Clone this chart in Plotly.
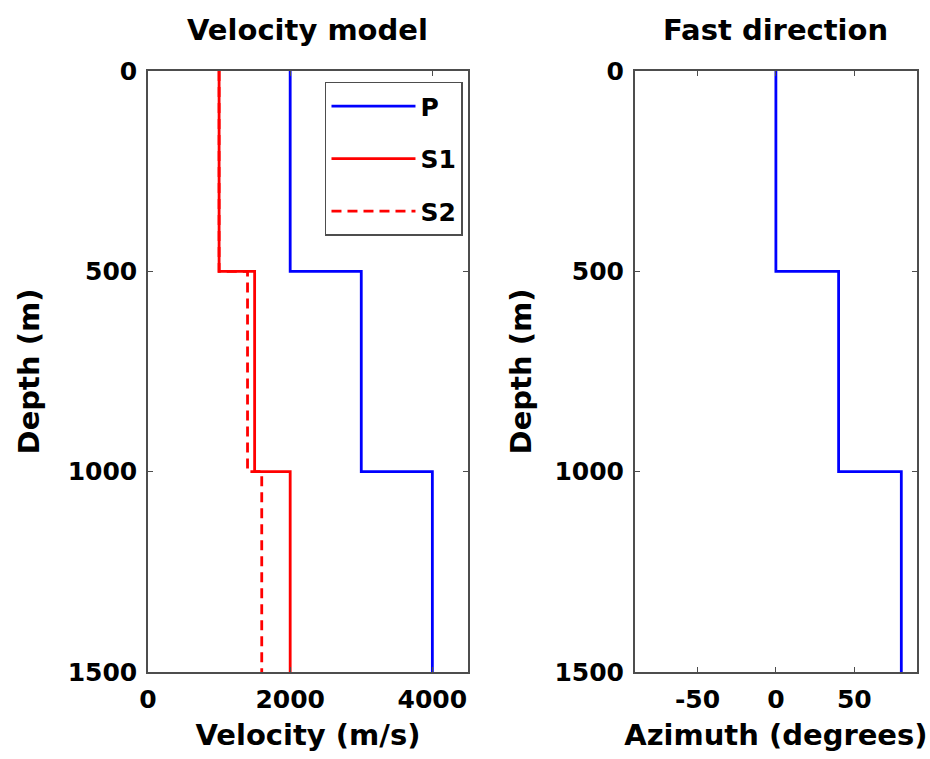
import plotly.graph_objects as go

# ---- data ----
layer_tops = [0, 500, 1000]
model_bottom = 1500
vp = [2000, 3000, 4000]
vs1 = [1000, 1500, 2000]
vs2 = [1000, 1400, 1600]
azimuth = [0, 40, 80]

depth_ticks = [0, 500, 1000, 1500]
vel_ticks = [0, 2000, 4000]
az_ticks = [-50, 0, 50]
az_tick_labels = ["-50", "0", "50"]

depths = layer_tops + [model_bottom]


def steps(vals):
    return vals + [vals[-1]]


FONT = "DejaVu Sans"
TICK_SIZE = 25
LABEL_SIZE = 29
AXCOL = "#4d4d4d"
LW = 2.8

fig = go.Figure()
fig.add_trace(go.Scatter(x=steps(vp), y=depths, mode="lines", line_shape="vh",
                         line=dict(color="#0000ff", width=LW), name="P",
                         legendgroup="P", xaxis="x", yaxis="y"))
fig.add_trace(go.Scatter(x=steps(vs1), y=depths, mode="lines", line_shape="vh",
                         line=dict(color="#ff0000", width=LW), name="S1",
                         legendgroup="S1", xaxis="x", yaxis="y"))
fig.add_trace(go.Scatter(x=steps(vs2), y=depths, mode="lines", line_shape="vh",
                         line=dict(color="#ff0000", width=LW, dash="10px,6px"), name="S2",
                         legendgroup="S2", xaxis="x", yaxis="y"))
fig.add_trace(go.Scatter(x=steps(azimuth), y=depths, mode="lines", line_shape="vh",
                         line=dict(color="#0000ff", width=LW), name="Azimuth",
                         showlegend=False, xaxis="x2", yaxis="y2"))

axis_common = dict(
    showline=True, linecolor=AXCOL, linewidth=1.5, mirror="ticks",
    ticks="inside", ticklen=5, tickcolor=AXCOL, tickwidth=1,
    showgrid=False, zeroline=False,
    tickfont=dict(family=FONT, size=TICK_SIZE, color="black", weight="bold"),
    title_font=dict(family=FONT, size=LABEL_SIZE, color="black", weight="bold"),
)

fig.update_layout(
    width=930, height=759,
    margin=dict(l=148, r=13, t=71, b=87),
    paper_bgcolor="white", plot_bgcolor="white",
    xaxis=dict(domain=[0, 0.416], range=[0, 4500], tickvals=vel_ticks,
               title=dict(text="Velocity (m/s)", standoff=12), anchor="y",
               ticklabelstandoff=4, **axis_common),
    yaxis=dict(domain=[0, 1], range=[1500, 0], tickvals=depth_ticks,
               title=dict(text="Depth (m)", standoff=20), anchor="x",
               ticklabelstandoff=4, **axis_common),
    xaxis2=dict(domain=[0.633, 1], range=[-90, 90], tickvals=az_ticks,
                ticktext=az_tick_labels,
                title=dict(text="Azimuth (degrees)", standoff=12), anchor="y2",
                ticklabelstandoff=4, **axis_common),
    yaxis2=dict(domain=[0, 1], range=[1500, 0], tickvals=depth_ticks,
                title=dict(text="Depth (m)", standoff=14), anchor="x2",
                ticklabelstandoff=4, **axis_common),
    legend=dict(x=0.4096, xanchor="right", y=0.982, yanchor="top",
                bgcolor="white", bordercolor=AXCOL, borderwidth=1.5,
                font=dict(family=FONT, size=TICK_SIZE, color="black", weight="bold"),
                tracegroupgap=17, itemwidth=84),
    annotations=[
        dict(text="Velocity model", xref="x domain", x=0.5, yref="paper", y=1.068,
             xanchor="center", yanchor="middle", showarrow=False,
             font=dict(family=FONT, size=LABEL_SIZE, color="black", weight="bold")),
        dict(text="Fast direction", xref="x2 domain", x=0.5, yref="paper", y=1.068,
             xanchor="center", yanchor="middle", showarrow=False,
             font=dict(family=FONT, size=LABEL_SIZE, color="black", weight="bold")),
    ],
)

fig.write_html("out.html")
